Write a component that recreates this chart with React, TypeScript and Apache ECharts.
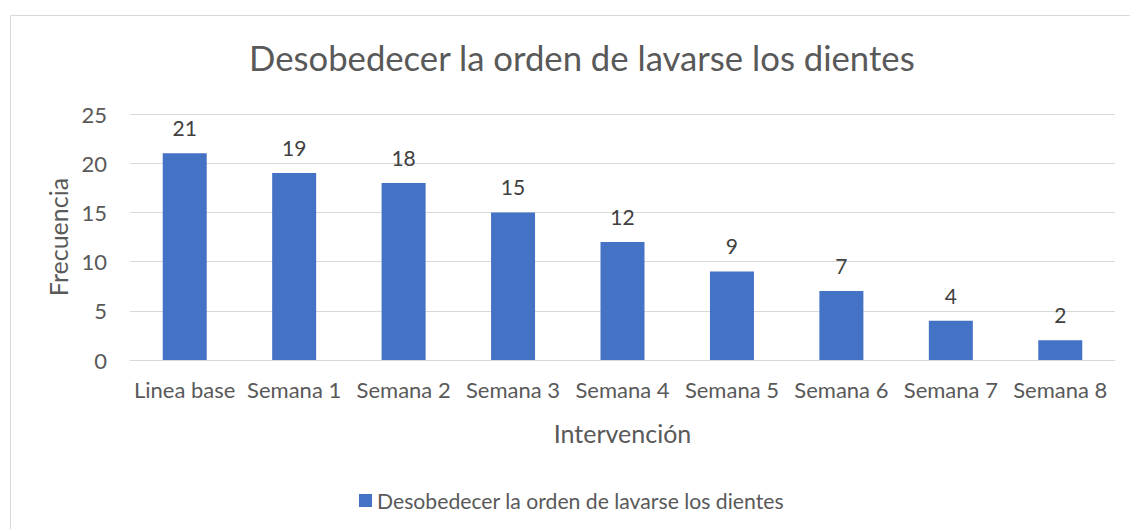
import React, { useEffect, useRef } from "react";
import * as echarts from "echarts";

const categories = ["Linea base", "Semana 1", "Semana 2", "Semana 3", "Semana 4", "Semana 5", "Semana 6", "Semana 7", "Semana 8"];
const values = [21, 19, 18, 15, 12, 9, 7, 4, 2];
const seriesName = "Desobedecer la orden de lavarse los dientes";
const titleText = "Desobedecer la orden de lavarse los dientes";
const yAxisName = "Frecuencia";
const xAxisName = "Intervención";

const FONT = "Lato";

export default function App() {
  const ref = useRef<HTMLDivElement>(null);
  useEffect(() => {
    if (!ref.current) return;
    const chart = echarts.init(ref.current, undefined, { renderer: "svg" });
    chart.setOption({
      animation: false,
      backgroundColor: "#ffffff",
      textStyle: { fontFamily: FONT },
      title: {
        text: titleText,
        left: 244,
        top: 35,
        textStyle: { fontFamily: FONT, fontSize: 34.7, fontWeight: "normal", color: "#595959" },
      },
      graphic: [
        {
          type: "rect",
          shape: { x: 10.5, y: 15.5, width: 1200, height: 600 },
          style: { fill: "none", stroke: "#d9d9d9", lineWidth: 1 },
          silent: true,
        },
      ],
      legend: {
        data: [seriesName],
        left: 354,
        top: 485,
        itemWidth: 13,
        itemHeight: 13,
        icon: "rect",
        itemGap: 10,
        textStyle: { fontFamily: FONT, fontSize: 21.2, color: "#595959" },
      },
      grid: { left: 130, right: 15, top: 114, bottom: 169 },
      xAxis: {
        type: "category",
        data: categories,
        name: xAxisName,
        nameLocation: "middle",
        nameGap: 60,
        nameTextStyle: { fontFamily: FONT, fontSize: 25, color: "#595959" },
        axisLine: { lineStyle: { color: "#d9d9d9", width: 1 } },
        axisTick: { show: false },
        axisLabel: { fontFamily: FONT, fontSize: 22, color: "#595959", margin: 18, interval: 0 },
      },
      yAxis: {
        type: "value",
        min: 0,
        max: 25,
        interval: 5,
        name: yAxisName,
        nameLocation: "middle",
        nameGap: 56,
        nameRotate: 90,
        nameTextStyle: { fontFamily: FONT, fontSize: 25, color: "#595959" },
        axisLine: { show: false },
        axisTick: { show: false },
        splitLine: { lineStyle: { color: "#d9d9d9", width: 1 } },
        axisLabel: { fontFamily: FONT, fontSize: 22, color: "#595959", margin: 23 },
      },
      series: [
        {
          name: seriesName,
          type: "bar",
          data: values,
          barWidth: 44,
          itemStyle: { color: "#4472C4" },
          label: {
            show: true,
            position: "top",
            distance: 15,
            fontFamily: FONT,
            fontSize: 21,
            color: "#404040",
          },
        },
      ],
    });
    return () => chart.dispose();
  }, []);
  return <div ref={ref} style={{ position: "fixed", left: 0, top: 0, width: 1130, height: 529 }} />;
}
